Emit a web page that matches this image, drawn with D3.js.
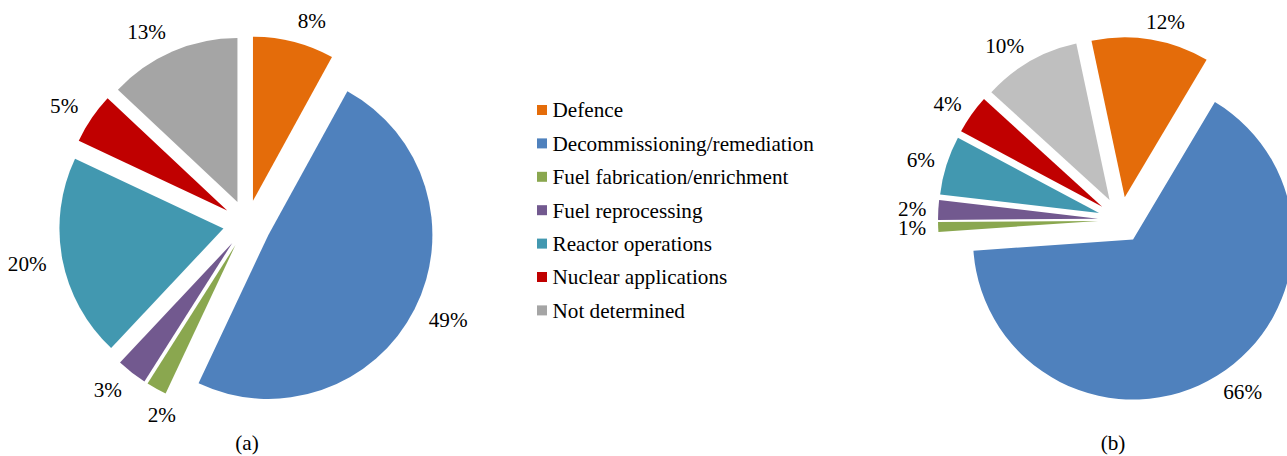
<!DOCTYPE html>
<html>
<head>
<meta charset="utf-8">
<script src="https://cdn.jsdelivr.net/npm/d3@7"></script>
<style>
  html, body { margin: 0; padding: 0; background: #fff; }
  svg { display: block; }
</style>
</head>
<body>
<svg id="chart" width="1287" height="456"></svg>
<script>
const categories = [
  "Defence",
  "Decommissioning/remediation",
  "Fuel fabrication/enrichment",
  "Fuel reprocessing",
  "Reactor operations",
  "Nuclear applications",
  "Not determined"
];
const valuesA = [8, 49, 2, 3, 20, 5, 13];
const valuesB = [12, 66, 1, 2, 6, 4, 10];
const colorsA = ["#E46C0A", "#4F81BD", "#8AA74F", "#72598F", "#4298B0", "#C00000", "#A5A5A5"];
const colorsB = ["#E46C0A", "#4F81BD", "#8AA74F", "#72598F", "#4298B0", "#C00000", "#BFBFBF"];
const captions = ["(a)", "(b)"];

const svg = d3.select("#chart");
const fontSize = 21.2;
const FONT = '"Liberation Serif"';

function addText(sel) {
  return sel.append("text").style("font-family", FONT).attr("font-size", fontSize).attr("fill", "#000");
}

function drawPie(values, colors, cx, cy, R, explode, startDeg, gap, caption, capX) {
  const start = startDeg * Math.PI / 180;
  const pie = d3.pie().sort(null).value(d => d).startAngle(start).endAngle(start + 2 * Math.PI);
  const arc = d3.arc().innerRadius(0).outerRadius(R);
  const g = svg.append("g").attr("transform", `translate(${cx},${cy})`);
  const arcs = pie(values);
  const h = 12, boxH = 19;
  const r = R + explode + gap;
  const place = (theta, w, useShift) => {
    const ux = Math.sin(theta), uy = -Math.cos(theta);
    const sx = useShift ? Math.max(-1, Math.min(1, ux * 4)) : 0;
    return { x: ux * r + sx * w / 2, y: uy * r + uy * h / 2, uy };
  };
  const labels = arcs.map((a, i) => {
    const mid = (a.startAngle + a.endAngle) / 2;
    const dx = Math.sin(mid) * explode, dy = -Math.cos(mid) * explode;
    g.append("path")
      .attr("d", arc(a))
      .attr("transform", `translate(${dx},${dy})`)
      .attr("fill", colors[i]);
    const t = addText(g)
      .attr("text-anchor", "middle")
      .attr("dy", "0.35em")
      .text(values[i] + "%");
    const w = t.node().getComputedTextLength();
    return Object.assign({ t, w, mid }, place(mid, w, true));
  });
  // simple collision handling: slide a crowded label back along the ring
  for (let i = 0; i < labels.length - 1; i++) {
    const a = labels[i], b = labels[i + 1];
    const overlapX = Math.abs(a.x - b.x) < (a.w + b.w) / 2;
    const overlapY = Math.abs(a.y - b.y) < boxH;
    if (Math.abs(a.uy) > 0.5 && overlapX && overlapY) {
      let theta = a.mid;
      let p = place(theta, a.w, false);
      while (Math.abs(p.x - b.x) < (a.w + b.w) / 2 + 0.9 * a.w && theta > a.mid - 0.5) {
        theta -= 0.004;
        p = place(theta, a.w, false);
      }
      Object.assign(a, p);
    }
  }
  labels.forEach(l => l.t.attr("x", l.x).attr("y", l.y));
  addText(svg)
    .attr("x", capX).attr("y", 443)
    .attr("text-anchor", "middle")
    .attr("dy", "0.35em")
    .text(caption);
}

drawPie(valuesA, colorsA, 247, 224, 164, 24, 0, 16, captions[0], 247);
drawPie(valuesB, colorsB, 1121, 220, 160, 23, -12, 12, captions[1], 1113);

// Legend
const legend = svg.append("g").attr("transform", "translate(537,110)");
categories.forEach((c, i) => {
  const row = legend.append("g").attr("transform", `translate(0,${i * 33.4})`);
  row.append("rect").attr("x", 0).attr("y", -5).attr("width", 10).attr("height", 10).attr("fill", colorsA[i]);
  addText(row).attr("x", 15.5).attr("y", 0).attr("dy", "0.35em").text(c);
});
</script>
</body>
</html>
